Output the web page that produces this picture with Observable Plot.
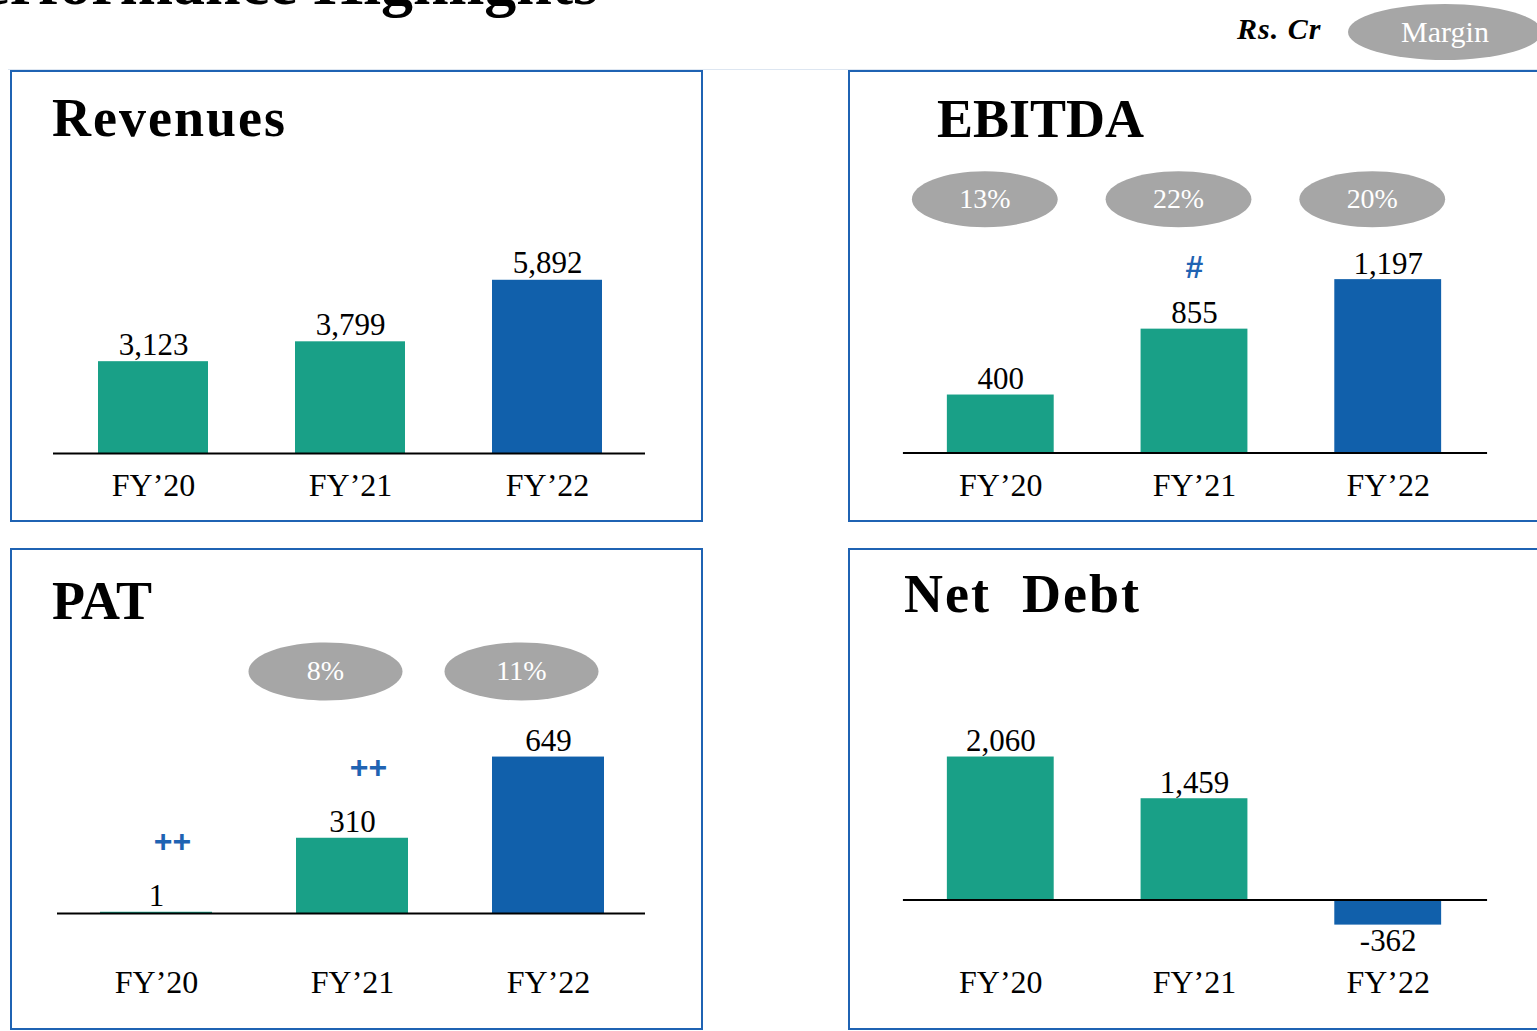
<!DOCTYPE html>
<html>
<head>
<meta charset="utf-8">
<script src="https://cdn.jsdelivr.net/npm/d3@7"></script>
<script src="https://cdn.jsdelivr.net/npm/@observablehq/plot@0.6"></script>
<style>
  html, body { margin: 0; padding: 0; background: #fff; overflow: hidden; }
  #page { position: relative; width: 1537px; height: 1031px; overflow: hidden; font-family: "Liberation Serif", serif; color: #000; }
  .panel { position: absolute; border: 2px solid #1f63b3; box-sizing: border-box; }
  .title { position: absolute; font-weight: bold; font-size: 54px; line-height: 1; white-space: pre; }
  .chart { position: absolute; }
  .chart svg { display: block; overflow: visible; }
  #heading { position: absolute; right: 939px; top: -49px; font-size: 64px; line-height: 1; font-weight: bold; white-space: nowrap; }
  #rule { position: absolute; left: 8px; right: 0; top: 69px; height: 1px; background: #dde6f1; }
  #unit { position: absolute; left: 1237px; top: 14px; font-size: 30px; line-height: 1; font-weight: bold; font-style: italic; letter-spacing: 1px; }
  #marginKey { position: absolute; left: 1348px; top: 4px; width: 194px; height: 56px; border-radius: 50%; background: #a6a6a6; color: #fff; font-size: 30px; line-height: 56px; text-align: center; }
</style>
</head>
<body>
<div id="page">
  <div id="heading">Performance Highlights</div>
  <div id="rule"></div>
  <div id="unit">Rs. Cr</div>
  <div id="marginKey">Margin</div>

  <div class="panel" style="left:10px;top:70px;width:693px;height:452px"></div>
  <div class="panel" style="left:848px;top:70px;width:700px;height:452px"></div>
  <div class="panel" style="left:10px;top:548px;width:693px;height:482px"></div>
  <div class="panel" style="left:848px;top:548px;width:700px;height:482px"></div>

  <div class="title" style="left:52px;top:91px;letter-spacing:2px">Revenues</div>
  <div class="title" style="left:937px;top:92px">EBITDA</div>
  <div class="title" style="left:52px;top:574px">PAT</div>
  <div class="title" style="left:904px;top:567px;letter-spacing:2px">Net  Debt</div>

  <div class="chart" id="c1" style="left:10px;top:71px"></div>
  <div class="chart" id="c2" style="left:848px;top:71px"></div>
  <div class="chart" id="c3" style="left:10px;top:549px"></div>
  <div class="chart" id="c4" style="left:848px;top:549px"></div>
</div>
<script>
// ---- data ----
const years = ["FY\u201920", "FY\u201921", "FY\u201922"];
const revenues = [3123, 3799, 5892];
const ebitda = [400, 855, 1197];
const ebitdaMargin = ["13%", "22%", "20%"];
const ebitdaNote = [null, "#", null];
const pat = [1, 310, 649];
const patMargin = [null, "8%", "11%"];
const patNote = ["++", "++", null];
const netDebt = [2060, 1459, -362];

// ---- styles ----
const TEAL = "#19a087";
const BLUE = "#1160ab";
const NOTE_BLUE = "#1f63b3";
const GREY = "#a6a6a6";
const FONT = "Liberation Serif, serif";

const fmt = d3.formatLocale({decimal: ".", thousands: ",", grouping: [3], currency: ["", ""], minus: "-"}).format(",");

function ellipse(rx, ry) {
  const k = 0.5522847498;
  return {
    draw(ctx) {
      ctx.moveTo(rx, 0);
      ctx.bezierCurveTo(rx, ry * k, rx * k, ry, 0, ry);
      ctx.bezierCurveTo(-rx * k, ry, -rx, ry * k, -rx, 0);
      ctx.bezierCurveTo(-rx, -ry * k, -rx * k, -ry, 0, -ry);
      ctx.bezierCurveTo(rx * k, -ry, rx, -ry * k, rx, 0);
      ctx.closePath();
    }
  };
}

function panel(o) {
  const rows = years.map((year, i) => ({
    year,
    value: o.values[i],
    margin: o.margins ? o.margins[i] : null,
    note: o.notes ? o.notes[i] : null
  }));
  const pos = rows.filter(d => d.value >= 0);
  const neg = rows.filter(d => d.value < 0);
  const marks = [
    Plot.barY(rows, Object.assign({x: "year", y: "value", fill: "year"},
      o.barStroke ? {stroke: "year", strokeWidth: 2} : {})),
    Plot.ruleY([0], {stroke: "#000", strokeWidth: 2}),
    Plot.text(pos, {x: "year", y: "value", text: d => fmt(d.value), lineAnchor: "bottom", dy: o.labelDy, fontSize: 31, fill: "#000"}),
    Plot.text(neg, {x: "year", y: "value", text: d => fmt(d.value), lineAnchor: "top", dy: 4, fontSize: 31, fill: "#000"})
  ];
  if (o.margins) {
    const m = rows.filter(d => d.margin);
    marks.push(Plot.dot(m, {x: "year", frameAnchor: "top", dx: o.ellDx, dy: o.ellDy, symbol: ellipse(o.rx, o.ry), fill: GREY, stroke: "none"}));
    marks.push(Plot.text(m, {x: "year", frameAnchor: "top", dx: o.ellDx, dy: o.ellDy, text: "margin", fill: "#fff", fontSize: 28, lineAnchor: "middle"}));
  }
  if (o.notes) {
    const n = rows.filter(d => d.note);
    marks.push(Plot.text(n, {x: "year", y: "value", text: "note", dx: o.noteDx, dy: o.noteDy, fill: NOTE_BLUE, fontSize: 32, fontWeight: "bold", fontFamily: "Liberation Sans, sans-serif", lineAnchor: "middle"}));
  }
  return Plot.plot({
    width: o.width,
    height: o.height,
    marginTop: 20,
    marginBottom: o.height - o.base,
    marginLeft: o.ruleL,
    marginRight: o.width - o.ruleR,
    style: {fontFamily: FONT, fontSize: "32px", color: "#000", background: "transparent", overflow: "visible"},
    x: {domain: years, range: o.xRange, paddingInner: o.pad, paddingOuter: 0, axis: "bottom", tickSize: 0, tickPadding: o.tickPad, label: null},
    y: {domain: o.yDomain, range: [o.base - o.k * o.yDomain[0], o.base - o.k * o.yDomain[1]], axis: null},
    color: {domain: years, range: [TEAL, TEAL, BLUE]},
    marks
  });
}

document.getElementById("c1").append(panel({
  values: revenues, width: 690, height: 450, base: 382, k: 0.0294, yDomain: [0, 6000],
  xRange: [87, 592], pad: 0.443, ruleL: 43, ruleR: 635, tickPad: 20, labelDy: -7
}));

document.getElementById("c2").append(panel({
  values: ebitda, margins: ebitdaMargin, notes: ebitdaNote,
  width: 690, height: 450, base: 382, k: 0.145, yDomain: [0, 1300],
  xRange: [98, 596], pad: 0.446, ruleL: 55, ruleR: 640, tickPad: 20, labelDy: -6,
  ellDx: -16, ellDy: 108, rx: 73, ry: 28, noteDx: 0, noteDy: -61
}));

document.getElementById("c3").append(panel({
  values: pat, margins: patMargin, notes: patNote, barStroke: true,
  width: 690, height: 480, base: 364, k: 0.2395, yDomain: [0, 700],
  xRange: [90, 593], pad: 0.44, ruleL: 47, ruleR: 635, tickPad: 57, labelDy: -7,
  ellDx: -27, ellDy: 102, rx: 77, ry: 29, noteDx: 16, noteDy: -72
}));

document.getElementById("c4").append(panel({
  values: netDebt, width: 690, height: 480, base: 351, k: 0.0695, yDomain: [-500, 2200],
  xRange: [98, 596], pad: 0.446, ruleL: 55, ruleR: 640, tickPad: 70, labelDy: -6
}));
</script>
</body>
</html>
